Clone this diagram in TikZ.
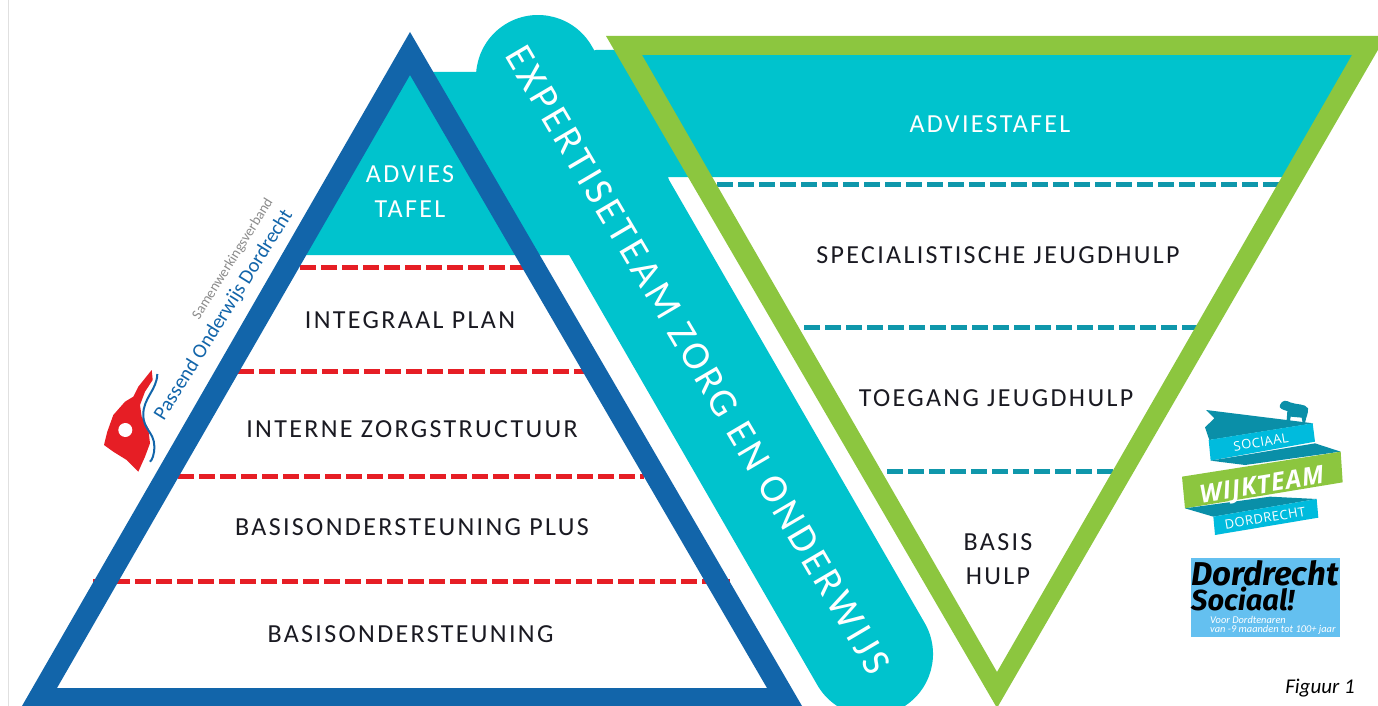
\documentclass[tikz,border=0pt]{standalone}
\usepackage{fontspec}
\setmainfont{Carlito}
\newfontfamily\spaced[LetterSpace=9]{Carlito}
\newfontfamily\logofont[LetterSpace=4]{Open Sans}
\newfontfamily\brush{Fira Sans}
\definecolor{tealfill}{HTML}{00C3CD}
\definecolor{tealdash}{HTML}{0F97AB}
\definecolor{tealdark}{HTML}{0A8FA8}
\definecolor{tealribbon}{HTML}{00BBDD}
\definecolor{bluetri}{HTML}{1265AA}
\definecolor{greentri}{HTML}{8CC63F}
\definecolor{reddash}{HTML}{E61E25}
\definecolor{skybox}{HTML}{64C0F0}
\definecolor{inktext}{HTML}{1A1A22}
\tikzset{
  tier/.style={font=\spaced\fontsize{26}{26}\selectfont,text=inktext,inner sep=0pt,align=center},
  tierwhite/.style={font=\spaced\fontsize{26}{35}\selectfont,text=white,inner sep=0pt,align=center},
  reddashed/.style={draw=reddash,line width=5pt,dash pattern=on 16pt off 5pt},
  tealdashed/.style={draw=tealdash,line width=5pt,dash pattern=on 16pt off 5pt},
  ribbondark/.style={fill=tealdark},
  ribbonlight/.style={fill=tealribbon},
}
\begin{document}
\begin{tikzpicture}[x=1pt,y=-1pt]
\useasboundingbox (0,0) rectangle (1378,706);
\fill[white] (0,0) rectangle (1378,706);
\draw[black!12,line width=1pt] (8.5,0) -- (8.5,706);
% teal band and fields
\draw[tealfill,line width=124pt,line cap=round] (538,77) -- (871,654);
\fill[tealfill] (410,72) -- (478,72) -- (560,60) -- (596,50) -- (700,50) -- (1360,50)
  -- (1285,177) -- (668,177) -- (700,300) -- (640,300) -- (570,255) -- (300,255) -- cycle;
% dashed dividers
\coordinate (r1a) at (300,267); \coordinate (r1b) at (526,267);
\coordinate (r2a) at (238,371); \coordinate (r2b) at (586,371);
\coordinate (r3a) at (178,476); \coordinate (r3b) at (644,476);
\coordinate (r4a) at (93,581);  \coordinate (r4b) at (730,581);
\draw[reddashed] (r1a) -- (r1b);
\draw[reddashed] (r2a) -- (r2b);
\draw[reddashed] (r3a) -- (r3b);
\draw[reddashed] (r4a) -- (r4b);
\coordinate (t1a) at (717,184.5); \coordinate (t1b) at (1284,184.5);
\coordinate (t2a) at (804,327);   \coordinate (t2b) at (1198,327);
\coordinate (t3a) at (887,471);   \coordinate (t3b) at (1115,471);
\draw[tealdashed] (t1a) -- (t1b);
\draw[tealdashed] (t2a) -- (t2b);
\draw[tealdashed] (t3a) -- (t3b);
% triangles
\fill[bluetri,even odd rule] (410,32) -- (802,706) -- (22,706) -- cycle
  (410,75) -- (767,688) -- (57,688) -- cycle;
\fill[greentri,even odd rule] (606,36) -- (1386,36) -- (997,708) -- cycle
  (642,55) -- (1352,55) -- (997,672) -- cycle;
% labels
\node[tierwhite] (advl) at (410,191.5) {ADVIES\\TAFEL};
\node[tier] (l1) at (410,320.5) {INTEGRAAL PLAN};
\node[tier] (l2) at (412,429) {INTERNE ZORGSTRUCTUUR};
\node[tier] (l3) at (412,527.5) {BASISONDERSTEUNING PLUS};
\node[tier] (l4) at (410.5,634.5) {BASISONDERSTEUNING};
\node[font=\spaced\fontsize{26}{26}\selectfont,text=white,inner sep=0pt] (advr) at (990,124) {ADVIESTAFEL};
\node[tier] (r1) at (998,255) {SPECIALISTISCHE JEUGDHULP};
\node[tier] (r2) at (996,398.5) {TOEGANG JEUGDHULP};
\node[font=\spaced\fontsize{26}{34}\selectfont,text=inktext,inner sep=0pt,align=center] (r3) at (998,559) {BASIS\\HULP};
\node[font=\spaced\fontsize{40}{40}\selectfont,text=white,inner sep=0pt,rotate=-59.5] (band) at (698,360) {EXPERTISETEAM ZORG EN ONDERWIJS};
\node[font=\itshape\fontsize{21}{21}\selectfont,text=black,inner sep=0pt] (fig) at (1320,688) {Figuur 1};
% left logo
\fill[reddash] (151.7,370) -- (152.7,380) -- (145,391.7) -- (140,405) -- (141.7,416.7) -- (148.3,428.3) -- (150,443.3)
  -- (145,456.7) -- (138.3,471.7) -- (135,468.3) -- (126.7,460) -- (113.3,451.7) -- (104,445) -- (107.3,431.7)
  -- (113.3,415) -- (125,401.7) -- (133.3,396.7) -- (138.3,386.7) -- cycle;
\fill[white] (125.3,430) circle (7);
\draw[bluetri,line width=2pt] (157.3,374) .. controls (157,390) and (143,398) .. (143.3,415)
  .. controls (143.5,430) and (154,432) .. (154.3,446) .. controls (154.5,455) and (152,460) .. (150,461.7);
\node[font=\fontsize{20.3}{21}\selectfont,text=bluetri,inner sep=0pt,rotate=58] (pod) at (224,315) {Passend Onderwijs Dordrecht};
\node[font=\fontsize{14.4}{15}\selectfont,text=black!45,inner sep=0pt,rotate=58] (swv) at (233,259) {Samenwerkingsverband};
% wijkteam logo
\begin{scope}[shift={(1170,395)},scale=1/3]
  \fill[ribbondark] (108,45) -- (350,75) -- (430,85) -- (118,135) -- (105,97) -- (133,70) -- cycle;
  \fill[ribbonlight] (116,135) -- (428,85) -- (435,140) -- (122,197) -- cycle;
  \fill[ribbondark] (122,197) -- (435,145) -- (512,170) -- (225,210) -- cycle;
  \fill[greentri] (36,245) -- (512,170) -- (518,262) -- (45,340) -- cycle;
  \fill[ribbondark] (45,340) -- (300,305) -- (440,312) -- (130,365) -- cycle;
  \fill[ribbonlight] (130,365) -- (440,312) -- (445,368) -- (135,420) -- cycle;
  \fill[ribbondark] (350,76) -- (352,48) .. controls (340,45) and (325,40) .. (330,30)
    .. controls (335,15) and (350,15) .. (360,22) .. controls (380,30) and (405,25) .. (414,40)
    .. controls (416,55) and (408,65) .. (405,84) -- (398,83) -- (395,68) -- (362,65) -- (360,78) -- cycle;
\end{scope}
\node[font=\logofont\fontsize{13}{13}\selectfont,text=white,inner sep=0pt,rotate=9.5] (soc) at (1261,442) {SOCIAAL};
\node[font=\logofont\bfseries\itshape\fontsize{25}{25}\selectfont,text=white,inner sep=0pt,rotate=9.5] (wij) at (1262,487) {WIJKTEAM};
\node[font=\logofont\fontsize{13}{13}\selectfont,text=white,inner sep=0pt,rotate=9.5] (dor) at (1265,518) {DORDRECHT};
% Dordrecht Sociaal box
\fill[skybox] (1191,558) rectangle (1340,637);
\node[font=\brush\itshape\bfseries\fontsize{33}{33}\selectfont,text=black,inner sep=0pt,anchor=west] (ds1) at (1191,573) {Dordrecht};
\node[font=\brush\itshape\bfseries\fontsize{29}{29}\selectfont,text=black,inner sep=0pt,anchor=west] (ds2) at (1191,599) {Sociaal!};
\node[font=\itshape\fontsize{10.4}{9}\selectfont,text=white,inner sep=0pt,anchor=north west,align=left] (ds3) at (1210,616) {Voor Dordtenaren\\van -9 maanden tot 100+ jaar};
\end{tikzpicture}
\end{document}
